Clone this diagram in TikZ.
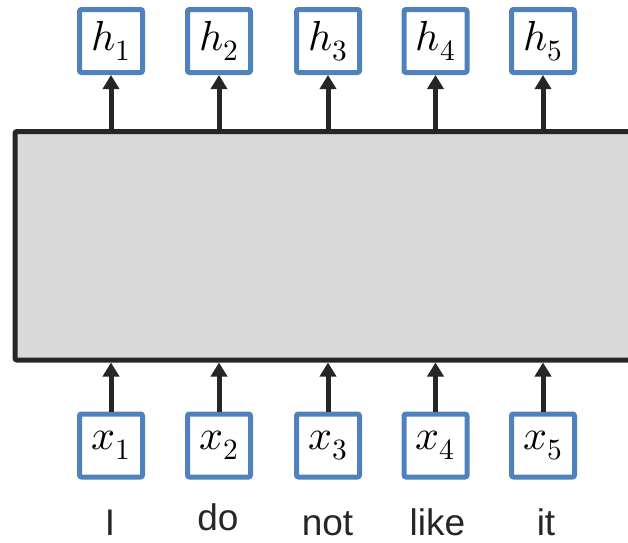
\documentclass[tikz,border=0pt]{standalone}
\usepackage{fontspec}
\usepackage{unicode-math}
\setmainfont{Liberation Sans}
\setmathfont{Latin Modern Math}
\usetikzlibrary{arrows.meta}
\definecolor{boxblue}{RGB}{79,129,189}
\definecolor{darkline}{RGB}{38,38,38}
\definecolor{encgray}{RGB}{217,217,217}
\tikzset{
  vecbox/.style={draw=boxblue, line width=5pt, fill=white, rounded corners=2pt,
    minimum width=63pt, minimum height=63pt, inner sep=0pt,
    font=\fontsize{42}{44}\selectfont},
  encbox/.style={draw=darkline, line width=5pt, fill=encgray, rounded corners=2pt,
    minimum width=630pt, minimum height=228.5pt, inner sep=0pt},
  flow/.style={draw=darkline, line width=5pt, -{Triangle[width=16pt,length=14pt]}},
  word/.style={anchor=base, text=darkline, inner sep=0pt, font=\fontsize{37}{40}\selectfont}
}
\begin{document}
\begin{tikzpicture}[x=1pt, y=-1pt]
	% Frame and encoder block:
	\useasboundingbox (0, 0) rectangle (628, 542);
	\clip (0, 0) rectangle (628, 542);
	\node[encbox] (enc) at (330, 245.75) {};
	% Outputs:
	\node[vecbox] (h1) at (111, 41) {$h_1$};
	\node[vecbox] (h2) at (219, 41) {$h_2$};
	\node[vecbox] (h3) at (328, 41) {$h_3$};
	\node[vecbox] (h4) at (435.5, 41) {$h_4$};
	\node[vecbox] (h5) at (543, 41) {$h_5$};
	% Inputs:
	\node[vecbox] (x1) at (111, 445.5) {$x_1$};
	\node[vecbox] (x2) at (219, 445.5) {$x_2$};
	\node[vecbox] (x3) at (328, 445.5) {$x_3$};
	\node[vecbox] (x4) at (435.5, 445.5) {$x_4$};
	\node[vecbox] (x5) at (543, 445.5) {$x_5$};
	% Words:
	\node[word] (w1) at (110, 535) {I};
	\node[word] (w2) at (218, 530) {do};
	\node[word] (w3) at (327.5, 535) {not};
	\node[word] (w4) at (437.5, 535) {like};
	\node[word] (w5) at (546, 535) {it};
	% Arrows:
	\draw[flow] (enc.north -| h1.south) -- (h1.south);
	\draw[flow] (enc.north -| h2.south) -- (h2.south);
	\draw[flow] (enc.north -| h3.south) -- (h3.south);
	\draw[flow] (enc.north -| h4.south) -- (h4.south);
	\draw[flow] (enc.north -| h5.south) -- (h5.south);
	\draw[flow] (x1.north) -- (enc.south -| x1.north);
	\draw[flow] (x2.north) -- (enc.south -| x2.north);
	\draw[flow] (x3.north) -- (enc.south -| x3.north);
	\draw[flow] (x4.north) -- (enc.south -| x4.north);
	\draw[flow] (x5.north) -- (enc.south -| x5.north);
\end{tikzpicture}
\end{document}
